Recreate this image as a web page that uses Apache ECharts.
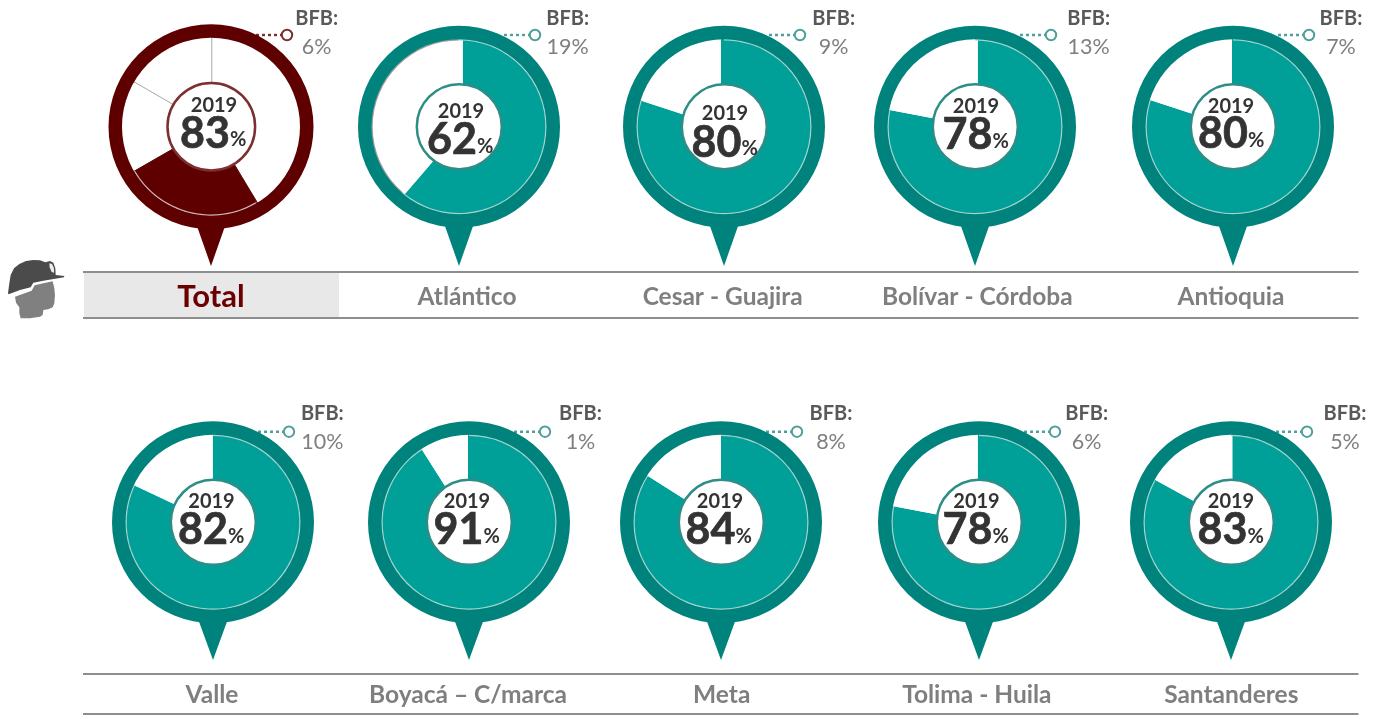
<!DOCTYPE html>
<html><head><meta charset="utf-8">
<style>html,body{margin:0;padding:0;background:#fff}#c{width:1373px;height:719px}</style>
<script src="https://cdn.jsdelivr.net/npm/echarts@6/dist/echarts.min.js"></script>
</head><body><div id="c"></div>
<script>
// ---- values ----
const regions = ['Total','Atlántico','Cesar - Guajira','Bolívar - Córdoba','Antioquia','Valle','Boyacá – C/marca','Meta','Tolima - Huila','Santanderes'];
const year = '2019';
const percent = [83,62,80,78,80,82,91,84,78,83];
const bfb = [6,19,9,13,7,10,1,8,6,5];
const sliceShare = [25.3,61.3,80,78,80,82,91,84,78,83];  // filled share as drawn
const totalSlices = [41.4,25.3,16.65,16.65];   // white, dark, white, white
// ---- layout (not data) ----
const pinX   = [211,459,724,975,1233,213,469,721,979,1231];
const sliceX = [211.7,462.7,721,977.7,1232,212.7,468,721,977.7,1232.3];
const yearX  = [214,461,725,976,1231,211.5,467,720,976.5,1231];
const yearY  = [106,112,113.7,107,107,502,502,502,502,502];
const numX   = [205,452,716.5,967.5,1223,203,458.5,710.5,967.5,1222.5];
const numY   = [134,140.5,143,135.5,134.5,530.5,530.5,530.5,530.5,530.5];
const nameX  = [211,467,722.7,977.3,1231,212,468,721.7,976.8,1231.3];
const bfbX   = [316.7,567.7,833.7,1088.7,1341,322.3,580.5,831,1086.7,1345];
const rows = [
  {cy:126.7, tip:266, nameY:297, top:272, bottom:318, titleY:19, valueY:47},
  {cy:522.3, tip:660, nameY:695.5, top:674, bottom:714, titleY:414, valueY:441.7}
];
const TEAL_RING='#00837c', TEAL='#00a099', MAROON='#5f0000', CLEAR='rgba(0,0,0,0)';
const FONT='Lato';

const series=[]; const graphic=[];
function pie(z,center,radius,data){
  series.push({type:'pie',silent:true,animation:false,z,center,radius,startAngle:90,clockwise:true,
    label:{show:false},labelLine:{show:false},emphasis:{disabled:true},data});
}
regions.forEach((name,i)=>{
  const row=rows[i<5?0:1], cx=pinX[i], cy=row.cy, isTotal=i===0;
  const ringC=isTotal?MAROON:TEAL_RING;
  const rIn=isTotal?89:87.5, rOut=isTotal?102.5:101, rHole=isTotal?43.8:42.5;
  const dotX=cx+76, dotY=cy-(i<5?91.7:90.6);
  const sc=isTotal?'#7d2f2f':'#4f9f9a';
  graphic.push({type:'line',z:1,shape:{x1:cx+45,y1:dotY,x2:dotX-5,y2:dotY},
    style:{stroke:sc,lineWidth:2.4,lineDash:[3,3]}});
  graphic.push({type:'circle',z:1,shape:{cx:dotX,cy:dotY,r:5.2},
    style:{fill:'#fff',stroke:sc,lineWidth:2}});
  if(isTotal){
    pie(2,[sliceX[i],cy],[0,95],totalSlices.map((v,k)=>({value:v,itemStyle:k===1?{color:'#fff'}:{color:'#fff',borderColor:'#b5b5b5',borderWidth:1}})));
    pie(2.5,[sliceX[i],cy],[0,95],totalSlices.map((v,k)=>({value:v,itemStyle:k===1?{color:MAROON,borderColor:MAROON,borderWidth:1}:{color:CLEAR}})));
    pie(3,[cx,cy],[rIn-1.2,rIn+0.5],totalSlices.map((v,k)=>({value:v,itemStyle:{color:k===1?'#c9b5b5':CLEAR}})));
  }else{
    const rest=100-sliceShare[i];
    pie(2,[sliceX[i],cy],[0,95],[{value:sliceShare[i],itemStyle:{color:TEAL}},{value:rest,itemStyle:{color:'#fff'}}]);
    pie(3,[cx,cy],[rIn-1.2,rIn+0.5],[{value:sliceShare[i],itemStyle:{color:'#a5d3cf'}},{value:rest,itemStyle:{color:i===1?'#9c9c9c':CLEAR}}]);
  }
  pie(4,[cx,cy],[rIn,rOut],[{value:1,itemStyle:{color:ringC}}]);
  graphic.push({type:'polygon',z:4,shape:{points:[[cx-14.5,cy+98],[cx+14.5,cy+98],[cx,row.tip]]},
    style:{fill:ringC}});
  pie(5,[cx+0.3,cy],[0,rHole],[{value:1,itemStyle:{color:'#fff',borderColor:isTotal?'#7d2f2f':'#2d8d87',borderWidth:2.5}}]);
  const txt=(text,x,y,fill,size,weight,align,stroke)=>graphic.push({type:'text',z:10,x,y,
    style:Object.assign({text,fill,fontFamily:FONT,fontSize:size,fontWeight:weight,textAlign:align||'center',textVerticalAlign:'middle'},stroke?{stroke:fill,lineWidth:stroke}:{})});
  txt(year,yearX[i],yearY[i],'#333',20,'bold');
  txt(String(percent[i]),numX[i],numY[i],'#333',43,'bold','center',0.7);
  txt('%',numX[i]+25,numY[i]+6,'#333',20,'bold','left');
  txt('BFB:',bfbX[i],row.titleY,'#595959',20,'bold');
  txt(bfb[i]+'%',bfbX[i],row.valueY,'#7f7f7f',21.5,'normal');
  txt(name,nameX[i],row.nameY,isTotal?'#6b0000':'#7f7f7f',isTotal?31:24.5,'bold');
});
graphic.push({type:'rect',z:0,shape:{x:84,y:273,width:255,height:44},style:{fill:'#e8e8e8'}});
rows.forEach(r=>[r.top,r.bottom].forEach(y=>graphic.push({type:'line',z:1,shape:{x1:83,y1:y,x2:1358.5,y2:y},style:{stroke:'#8e8e8e',lineWidth:2}})));
// miner icon (decoration), outlined at 3x from crop origin (0,250)
const icon=pts=>pts.map(p=>[p[0]/3,250+p[1]/3]);
graphic.push({type:'polygon',z:1,shape:{points:icon([[45,140],[70,131],[95,122],[104,106],[130,100],[158,94],[163,115],[165,135],[163,160],[158,172],[145,178],[130,180],[128,195],[120,200],[90,205],[62,205],[58,190],[58,172],[48,158]])},style:{fill:'#808080'}});
graphic.push({type:'polygon',z:1,shape:{points:icon([[24,130],[28,100],[32,75],[42,55],[58,42],[78,33],[100,30],[120,31],[136,37],[150,33],[160,38],[166,55],[167,75],[193,78],[192,82],[130,92],[100,98],[92,112],[60,120],[26,133]])},style:{fill:'#4b4b4b'}});
graphic.push({type:'polygon',z:2,shape:{points:icon([[148,40],[156,42],[162,55],[162,68],[155,66],[149,52]])},style:{fill:'#ededed'}});

const chart=echarts.init(document.getElementById('c'),null,{renderer:'canvas'});
chart.setOption({animation:false,backgroundColor:'#fff',series,graphic:{elements:graphic}});
</script></body></html>
